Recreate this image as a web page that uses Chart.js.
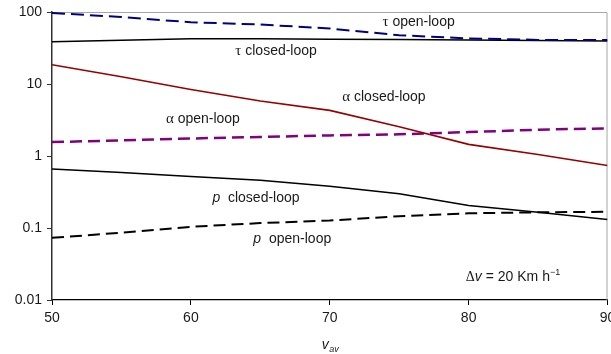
<!DOCTYPE html>
<html>
<head>
<meta charset="utf-8">
<script src="https://cdn.jsdelivr.net/npm/chart.js@4/dist/chart.umd.min.js"></script>
<style>
  html, body { margin: 0; padding: 0; background: #fff; }
  #wrap { width: 611px; height: 354px; }
</style>
</head>
<body>
<div id="wrap"><canvas id="c" width="611" height="354"></canvas></div>
<script>
// ---- data ----
const speeds = [50, 55, 60, 65, 70, 75, 80, 85, 90];
const tauOpen = [97, 85, 72, 67, 59, 47.5, 43, 41, 41];
const tauClosed = [38.7, 40.6, 42.6, 42.6, 42, 41.5, 40.8, 40.2, 39.6];
const alphaClosed = [18.5, 12.6, 8.4, 5.8, 4.3, 2.55, 1.45, 1.05, 0.74];
const alphaOpen = [1.56, 1.65, 1.75, 1.84, 1.93, 2.0, 2.15, 2.32, 2.42];
const pClosed = [0.66, 0.59, 0.52, 0.46, 0.38, 0.30, 0.205, 0.165, 0.131];
const pOpen = [0.073, 0.086, 0.104, 0.117, 0.127, 0.146, 0.16, 0.165, 0.168];

const xTicks = [50, 60, 70, 80, 90];
const yTicks = [0.01, 0.1, 1, 10, 100];
const yTickLabels = ['0.01', '0.1', '1', '10', '100'];

// curve annotations: [greek/italic prefix, text, x value, y value]
const curveLabels = [
  { pre: 'τ', preKind: 'greek', text: ' closed-loop', x: 63.2, y: 28.7 },
  { pre: 'τ', preKind: 'greek', text: ' open-loop', x: 73.8, y: 72 },
  { pre: 'α', preKind: 'greek', text: ' closed-loop', x: 70.9, y: 6.6 },
  { pre: 'α', preKind: 'greek', text: ' open-loop', x: 58.2, y: 3.22 },
  { pre: 'p', preKind: 'italic', text: '  closed-loop', x: 61.55, y: 0.259 },
  { pre: 'p', preKind: 'italic', text: '  open-loop', x: 64.5, y: 0.0705 }
];
const noteLabel = { x: 79.8, y: 0.0206 };

const SANS = '"Liberation Sans", Arial, Helvetica, sans-serif';
const SERIF = '"Liberation Serif", "Times New Roman", serif';

function pts(arr) { return speeds.map((s, i) => ({ x: s, y: arr[i] })); }

const frameAndText = {
  id: 'frameAndText',
  beforeDatasetsDraw(chart) {
    const { ctx, chartArea: a } = chart;
    ctx.save();
    ctx.strokeStyle = '#a6a6a6';
    ctx.lineWidth = 1;
    ctx.beginPath();
    ctx.moveTo(a.left, a.top + 0.5);
    ctx.lineTo(a.right - 0.5, a.top + 0.5);
    ctx.lineTo(a.right - 0.5, a.bottom);
    ctx.stroke();
    ctx.restore();
  },
  afterDraw(chart) {
    const { ctx, scales, chartArea: a } = chart;
    const xs = scales.x, ys = scales.y;
    ctx.save();
    ctx.fillStyle = '#1a1a1a';
    ctx.textBaseline = 'middle';
    ctx.textAlign = 'left';
    curveLabels.forEach(l => {
      let px = xs.getPixelForValue(l.x);
      const py = ys.getPixelForValue(l.y);
      ctx.font = l.preKind === 'greek' ? '15px ' + SERIF : 'italic 14px ' + SANS;
      ctx.fillText(l.pre, px, py);
      px += ctx.measureText(l.pre).width;
      ctx.font = '14px ' + SANS;
      ctx.fillText(l.text, px, py);
    });
    // Δv = 20 Km h^-1
    let px = xs.getPixelForValue(noteLabel.x);
    const py = ys.getPixelForValue(noteLabel.y);
    ctx.font = '14px ' + SERIF;
    ctx.fillText('Δ', px, py); px += ctx.measureText('Δ').width;
    ctx.font = 'italic 14px ' + SANS;
    ctx.fillText('v', px, py); px += ctx.measureText('v').width;
    ctx.font = '14px ' + SANS;
    ctx.fillText(' = 20 Km h', px, py); px += ctx.measureText(' = 20 Km h').width;
    ctx.font = '9px ' + SANS;
    ctx.fillText('−1', px, py - 5);
    // axis title v_av
    const cx = (a.left + a.right) / 2 - 8;
    const ty = a.bottom + 45;
    ctx.font = 'italic 14px ' + SANS;
    ctx.fillText('v', cx, ty);
    const vw = ctx.measureText('v').width;
    ctx.font = 'italic 9px ' + SANS;
    ctx.fillText('av', cx + vw + 0.5, ty + 4);
    ctx.restore();
  }
};

new Chart(document.getElementById('c'), {
  type: 'line',
  data: {
    datasets: [
      { label: 'tau open-loop', data: pts(tauOpen), borderColor: '#000080', borderWidth: 2, borderDash: [13, 6] },
      { label: 'tau closed-loop', data: pts(tauClosed), borderColor: '#000000', borderWidth: 1.5 },
      { label: 'alpha closed-loop', data: pts(alphaClosed), borderColor: '#990000', borderWidth: 1.6 },
      { label: 'alpha open-loop', data: pts(alphaOpen), borderColor: '#800080', borderWidth: 2.5, borderDash: [12, 6] },
      { label: 'p closed-loop', data: pts(pClosed), borderColor: '#000000', borderWidth: 1.5 },
      { label: 'p open-loop', data: pts(pOpen), borderColor: '#000000', borderWidth: 2, borderDash: [12, 6] }
    ]
  },
  options: {
    responsive: false,
    animation: false,
    devicePixelRatio: 1,
    layout: { padding: { top: 12, right: 3.5, left: 0, bottom: 0 } },
    elements: { point: { radius: 0 }, line: { tension: 0, fill: false } },
    plugins: { legend: { display: false }, tooltip: { enabled: false } },
    scales: {
      x: {
        type: 'linear', min: 50, max: 90,
        afterBuildTicks: s => { s.ticks = xTicks.map(v => ({ value: v })); },
        afterFit: s => { s.height = 54; s.paddingLeft = 0; s.paddingRight = 0; },
        ticks: { color: '#1a1a1a', font: { family: SANS, size: 14 }, padding: 5, maxRotation: 0 },
        grid: { display: true, drawOnChartArea: false, drawTicks: true, tickLength: 5, color: '#000' },
        border: { display: true, color: '#000', width: 1.2 }
      },
      y: {
        type: 'logarithmic', min: 0.01, max: 100,
        afterBuildTicks: s => { s.ticks = yTicks.map(v => ({ value: v })); },
        afterFit: s => { s.width = 52; s.paddingTop = 0; s.paddingBottom = 0; },
        ticks: {
          color: '#1a1a1a', font: { family: SANS, size: 14 }, padding: 5,
          callback: (v) => { const i = yTicks.indexOf(v); return i >= 0 ? yTickLabels[i] : ''; }
        },
        grid: { display: true, drawOnChartArea: false, drawTicks: true, tickLength: 5, color: '#333' },
        border: { display: true, color: '#333', width: 1.5 }
      }
    }
  },
  plugins: [frameAndText]
});
</script>
</body>
</html>
